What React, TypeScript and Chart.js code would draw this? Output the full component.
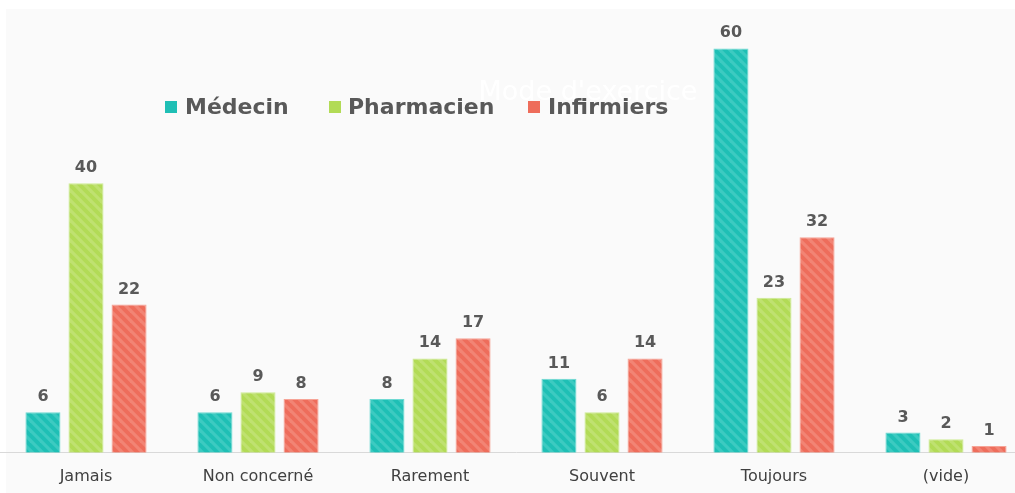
import React, { useEffect, useRef } from "react";
import { Chart, registerables } from "chart.js";

Chart.register(...registerables);

const categories = ["Jamais", "Non concerné", "Rarement", "Souvent", "Toujours", "(vide)"];
const seriesNames = ["Médecin", "Pharmacien", "Infirmiers"];
const medecin = [6, 6, 8, 11, 60, 3];
const pharmacien = [40, 9, 14, 6, 23, 2];
const infirmiers = [22, 8, 17, 14, 32, 1];
const chartTitle = "Mode d'exercice";

const baseColors = ["#1fbfb5", "#b2db56", "#ee6d5b"];
const stripeColors = ["#3dcac1", "#bfe170", "#f28474"];
const borderColors = ["#6fd9d2", "#cdeb95", "#f6a497"];

function makePattern(base: string, stripe: string): CanvasPattern | string {
  const size = 10;
  const c = document.createElement("canvas");
  c.width = size;
  c.height = size;
  const ctx = c.getContext("2d");
  if (!ctx) return base;
  ctx.fillStyle = base;
  ctx.fillRect(0, 0, size, size);
  ctx.strokeStyle = stripe;
  ctx.lineWidth = 3.2;
  for (const k of [-size, 0, size]) {
    ctx.beginPath();
    ctx.moveTo(k - 1, -1);
    ctx.lineTo(k + size + 1, size + 1);
    ctx.stroke();
  }
  const p = ctx.createPattern(c, "repeat");
  return p || base;
}

const panelPlugin = {
  id: "panel",
  beforeDraw(chart: any) {
    const ctx = chart.ctx;
    ctx.save();
    ctx.fillStyle = "#fafafa";
    ctx.fillRect(6, 9, chart.width, chart.height);
    ctx.restore();
  },
  beforeDatasetsDraw(chart: any) {
    const ctx = chart.ctx;
    ctx.save();
    ctx.fillStyle = "#ffffff";
    ctx.font = "27px 'DejaVu Sans'";
    ctx.textAlign = "center";
    ctx.textBaseline = "alphabetic";
    ctx.fillText(chartTitle, 588, 100);
    ctx.restore();
  },
};

const valueLabelPlugin = {
  id: "valueLabels",
  afterDatasetsDraw(chart: any) {
    const ctx = chart.ctx;
    ctx.save();
    ctx.fillStyle = "#595959";
    ctx.font = "bold 16px 'DejaVu Sans'";
    ctx.textAlign = "center";
    ctx.textBaseline = "alphabetic";
    chart.data.datasets.forEach((ds: any, di: number) => {
      const meta = chart.getDatasetMeta(di);
      meta.data.forEach((el: any, i: number) => {
        ctx.fillText(String(ds.data[i]), el.x, el.y - 11);
      });
    });
    ctx.restore();
  },
};

const legendPlugin = {
  id: "customLegend",
  afterDraw(chart: any) {
    const ctx = chart.ctx;
    const boxX = [165, 329, 528];
    const textX = [185, 348, 548];
    const cy = 107;
    ctx.save();
    ctx.font = "bold 22px 'DejaVu Sans'";
    ctx.textBaseline = "middle";
    ctx.textAlign = "left";
    chart.data.datasets.forEach((ds: any, di: number) => {
      ctx.fillStyle = baseColors[di];
      ctx.fillRect(boxX[di], cy - 6, 12, 12);
      ctx.fillStyle = "#595959";
      ctx.fillText(ds.label, textX[di], cy + 1);
    });
    ctx.restore();
  },
};

export default function App() {
  const ref = useRef<HTMLCanvasElement | null>(null);
  useEffect(() => {
    if (!ref.current) return;
    const values = [medecin, pharmacien, infirmiers];
    const chart = new Chart(ref.current, {
      type: "bar",
      data: {
        labels: categories,
        datasets: seriesNames.map((name, i) => ({
          label: name,
          data: values[i],
          backgroundColor: makePattern(baseColors[i], stripeColors[i]) as any,
          borderColor: borderColors[i],
          borderWidth: 1,
          categoryPercentage: 0.751,
          barPercentage: 0.814,
        })),
      },
      options: {
        animation: false,
        responsive: true,
        maintainAspectRatio: false,
        layout: { padding: { left: 0, right: 0, top: 8, bottom: -7 } },
        plugins: {
          legend: { display: false },
          tooltip: { enabled: false },
          title: { display: false },
        },
        scales: {
          x: {
            grid: { display: false, drawTicks: false },
            border: { display: true, color: "#d9d9d9", width: 1 },
            ticks: {
              color: "#404040",
              font: { family: "'DejaVu Sans'", size: 16 },
              padding: 14,
              maxRotation: 0,
              autoSkip: false,
            },
          },
          y: {
            display: false,
            min: 0,
            max: 66,
          },
        },
      },
      plugins: [panelPlugin, valueLabelPlugin, legendPlugin],
    });
    return () => chart.destroy();
  }, []);
  return (
    <div style={{ position: "fixed", left: 0, top: 0, width: "1032px", height: "493px", background: "#ffffff" }}>
      <canvas ref={ref} />
    </div>
  );
}
